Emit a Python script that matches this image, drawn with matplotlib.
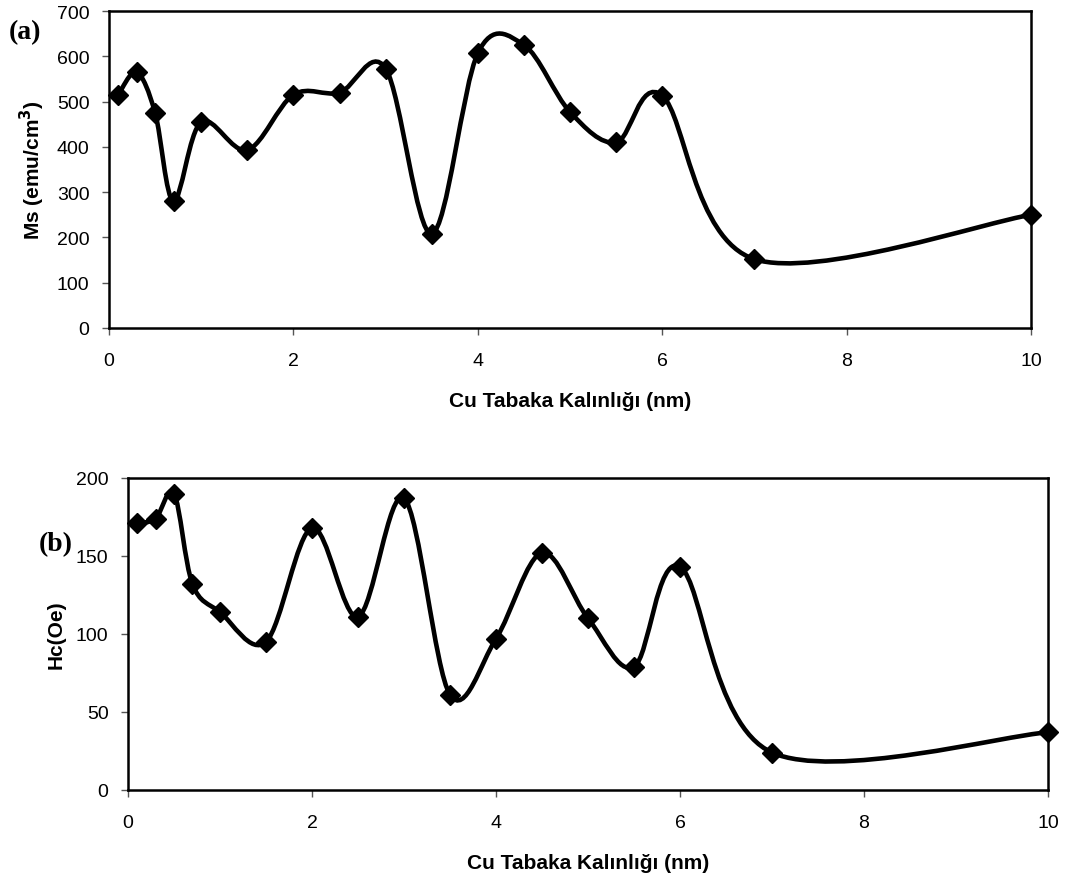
import matplotlib
matplotlib.use("Agg")
import matplotlib.pyplot as plt
import numpy as np
from matplotlib.path import Path
from matplotlib.patches import PathPatch

thickness = [0.1, 0.3, 0.5, 0.7, 1.0, 1.5, 2.0, 2.5, 3.0, 3.5, 4.0, 4.5, 5.0, 5.5, 6.0, 7.0, 10.0]
ms_values = [515, 565, 475, 280, 455, 393, 515, 520, 573, 208, 607, 625, 477, 410, 513, 152, 250]
hc_values = [171, 174, 190, 132, 114, 95, 168, 111, 187, 61, 97, 152, 110, 79, 143, 24, 37]

x_ticks = [0, 2, 4, 6, 8, 10]
x_label = "Cu Tabaka Kalınlığı (nm)"

plt.rcParams["font.family"] = ["Liberation Sans", "DejaVu Sans"]


def smooth_path(x, y, transform):
    # Excel-like smoothed line: cubic Bezier through every point (Catmull-Rom)
    pts = np.column_stack([x, y]).astype(float)
    pts = transform.transform(pts)
    n = len(pts)
    verts = [pts[0]]
    codes = [Path.MOVETO]
    for i in range(n - 1):
        p0 = pts[i - 1] if i > 0 else pts[i]
        p1 = pts[i]
        p2 = pts[i + 1]
        p3 = pts[i + 2] if i + 2 < n else pts[i + 1]
        c1 = p1 + (p2 - p0) / 6.0
        c2 = p2 - (p3 - p1) / 6.0
        verts += [c1, c2, p2]
        codes += [Path.CURVE4] * 3
    return Path(verts, codes)


def add_series(ax, x, y):
    ax.figure.canvas.draw()
    disp = smooth_path(x, y, ax.transData)
    patch = PathPatch(disp, facecolor="none", edgecolor="black", lw=3.3,
                      transform=None, zorder=3, clip_on=False)
    ax.add_artist(patch)
    ax.plot(x, y, ls="none", marker="D", ms=10.5, mfc="black", mec="black",
            mew=1.0, zorder=4, clip_on=False)


def setup_axes(ax, ylim, yticks, ylabel):
    ax.set_xlim(0, 10)
    ax.set_ylim(*ylim)
    ax.set_xticks(x_ticks)
    ax.set_yticks(yticks)
    for s in ax.spines.values():
        s.set_linewidth(1.8)
    ax.tick_params(axis="both", direction="out", length=5, width=1.0,
                   color="#555555", labelsize=14)
    ax.tick_params(axis="x", pad=12)
    ax.tick_params(axis="y", pad=9)
    ax.set_xlabel(x_label, fontsize=15, fontweight="bold", labelpad=16)
    ax.set_ylabel(ylabel, fontsize=15, fontweight="bold")


fig = plt.figure(figsize=(10.68, 8.78), dpi=100)
ax1 = fig.add_axes([0.1021, 0.6253, 0.8633, 0.3610])
ax2 = fig.add_axes([0.1199, 0.0991, 0.8614, 0.3554])

setup_axes(ax1, (0, 700), range(0, 701, 100), "Ms (emu/cm$^\\mathbf{3}$)")
setup_axes(ax2, (0, 200), range(0, 201, 50), "Hc(Oe)")
ax1.yaxis.set_label_coords(-0.067, 0.5)
ax2.yaxis.set_label_coords(-0.068, 0.5)

add_series(ax1, thickness, ms_values)
add_series(ax2, thickness, hc_values)

fig.text(0.008, 0.955, "(a)", fontsize=20, fontweight="bold",
         family=["Liberation Serif", "DejaVu Serif"])
fig.text(0.036, 0.372, "(b)", fontsize=20, fontweight="bold",
         family=["Liberation Serif", "DejaVu Serif"])

fig.savefig("out.png", dpi=100)
